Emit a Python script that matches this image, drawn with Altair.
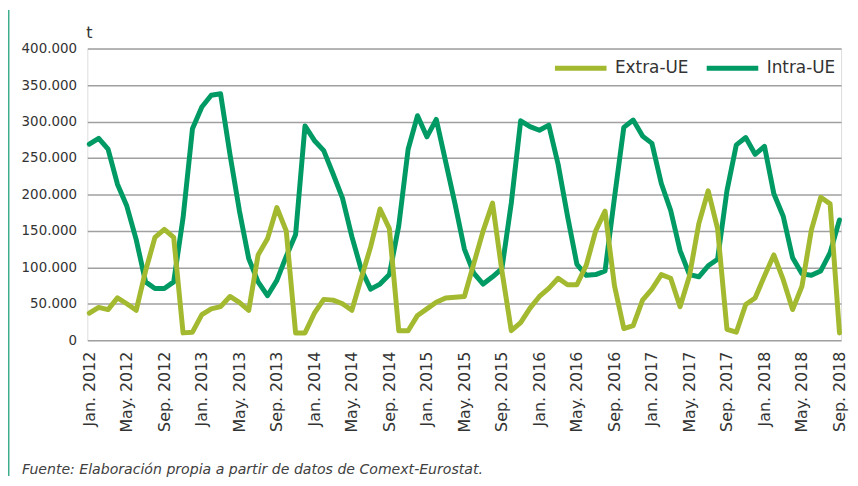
import altair as alt
import pandas as pd

tick_labels = [
    "Jan. 2012", "May. 2012", "Sep. 2012",
    "Jan. 2013", "May. 2013", "Sep. 2013",
    "Jan. 2014", "May. 2014", "Sep. 2014",
    "Jan. 2015", "May. 2015", "Sep. 2015",
    "Jan. 2016", "May. 2016", "Sep. 2016",
    "Jan. 2017", "May. 2017", "Sep. 2017",
    "Jan. 2018", "May. 2018", "Sep. 2018",
]

# monthly values, thousand tonnes, Jan 2012 .. Sep 2018
extra_ue = [
    37, 45, 42, 58, 50, 41, 95, 141, 152, 141, 10, 11,
    35, 43, 46, 60, 52, 41, 117, 139, 182, 150, 10, 10,
    37, 56, 55, 50, 41, 85, 128, 180, 153, 13, 13, 34,
    43, 52, 58, 59, 60, 105, 150, 188, 95, 13, 24, 44,
    60, 71, 85, 76, 76, 103, 150, 177, 75, 16, 20, 55,
    70, 90, 85, 46, 88, 160, 205, 153, 15, 11, 49, 58,
    88, 117, 83, 42, 74, 151, 196, 187, 10,
]
intra_ue = [
    269, 277, 262, 214, 184, 138, 80, 71, 71, 80, 168, 290,
    320, 336, 338, 255, 178, 112, 80, 61, 82, 115, 145, 294,
    274, 260, 228, 195, 142, 97, 70, 77, 90, 157, 262, 308,
    279, 303, 245, 187, 125, 92, 77, 87, 98, 188, 301, 293,
    288, 295, 241, 170, 104, 89, 90, 95, 195, 292, 302, 280,
    270, 215, 178, 123, 90, 87, 102, 111, 205, 268, 278, 255,
    266, 201, 170, 113, 91, 89, 95, 120, 165,
]

series_names = ["Extra-UE", "Intra-UE"]
series_colors = ["#A3B92F", "#009A64"]

rows = []
for name, vals in zip(series_names, [extra_ue, intra_ue]):
    for i, v in enumerate(vals):
        rows.append({"mes": i, "serie": name, "t": v * 1000})
df = pd.DataFrame(rows)

FONT = "DejaVu Sans"
label_js = "[" + ",".join("'%s'" % s for s in tick_labels) + "]"

color = alt.Color(
    "serie:N",
    scale=alt.Scale(domain=series_names, range=series_colors),
    legend=alt.Legend(
        orient="none", legendX=469, legendY=-9, direction="horizontal",
        title=None, symbolType="stroke", symbolStrokeWidth=5, symbolSize=2704,
        labelFontSize=17, labelFont=FONT, labelColor="#333333",
        labelOffset=6, columnPadding=7, padding=0,
    ),
)

x = alt.X(
    "mes:Q",
    scale=alt.Scale(domain=[-0.21, 80.17], nice=False, zero=False),
    axis=alt.Axis(
        values=list(range(0, 81, 4)),
        labelExpr=label_js + "[datum.value / 4]",
        labelAngle=-90, labelFontSize=16, labelFont=FONT, labelColor="#333333",
        labelPadding=11, ticks=False, domain=False, grid=False, title=None,
    ),
)
y = alt.Y(
    "t:Q",
    scale=alt.Scale(domain=[0, 400000], nice=False),
    axis=alt.Axis(
        values=list(range(0, 400001, 50000)),
        labelExpr="replace(format(datum.value, ','), regexp(',', 'g'), '.')",
        labelFontSize=13.5, labelFont=FONT, labelColor="#333333",
        labelPadding=11, ticks=False, domain=False, grid=True,
        gridColor="#A0A0A0", gridWidth=1.5, title=None,
    ),
)

base = alt.Chart(df)
intra_line = base.transform_filter(alt.datum.serie == "Intra-UE").mark_line(
    strokeWidth=5, strokeJoin="round", strokeCap="round"
).encode(x=x, y=y, color=color)
extra_line = base.transform_filter(alt.datum.serie == "Extra-UE").mark_line(
    strokeWidth=5, strokeJoin="round", strokeCap="round"
).encode(x=x, y=y, color=color)

unit = alt.Chart(pd.DataFrame({"txt": ["t"]})).mark_text(
    align="left", baseline="middle", fontSize=16, font=FONT, color="#333333"
).encode(x=alt.value(-1), y=alt.value(-16), text="txt:N")

source = alt.Chart(pd.DataFrame({"txt": ["Fuente: Elaboración propia a partir de datos de Comext-Eurostat."]})).mark_text(
    align="left", baseline="middle", fontSize=14.2, font=FONT, fontStyle="italic", color="#404040"
).encode(x=alt.value(-66), y=alt.value(425), text="txt:N")

side = alt.Chart(pd.DataFrame({"k": [0]})).mark_rule(
    color="#3FAE8C", strokeWidth=1.5
).encode(x=alt.value(-79.25), y=alt.value(-39), y2=alt.value(431))

chart = alt.layer(intra_line, extra_line, unit, source, side).properties(
    width=760, height=294,
    autosize=alt.AutoSizeParams(type="none"),
    padding={"left": 80, "top": 39, "right": 9, "bottom": 137},
).configure_view(
    stroke="#333333", strokeWidth=1.5
).configure(background="white")

chart.save("out.html", embed_options={"renderer": "svg", "actions": False})
